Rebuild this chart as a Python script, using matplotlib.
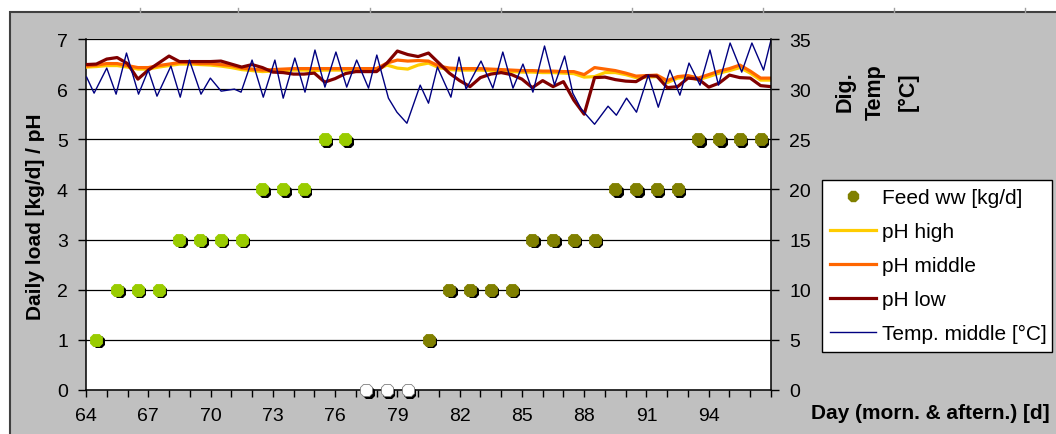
import matplotlib
matplotlib.use('Agg')
import numpy as np
import matplotlib.pyplot as plt
from matplotlib.lines import Line2D
from matplotlib.patches import Rectangle
from matplotlib.transforms import offset_copy

plt.rcParams['font.family'] = ['Liberation Sans', 'DejaVu Sans']

# pH readings, two per day (morning / afternoon)
ph_day = np.arange(64.0, 97.01, 0.5)
ph_low = [6.49, 6.50, 6.60, 6.63, 6.51, 6.20, 6.38, 6.52, 6.66, 6.55,
          6.55, 6.55, 6.55, 6.56, 6.50, 6.44, 6.49, 6.43, 6.34, 6.33,
          6.30, 6.30, 6.32, 6.14, 6.21, 6.31, 6.35, 6.35, 6.35, 6.52,
          6.76, 6.69, 6.65, 6.72, 6.52, 6.32, 6.17, 6.05, 6.23, 6.30,
          6.33, 6.29, 6.20, 6.03, 6.17, 6.05, 6.15, 5.78, 5.50, 6.23,
          6.24, 6.19, 6.16, 6.15, 6.27, 6.26, 6.03, 6.05, 6.22, 6.20,
          6.04, 6.12, 6.28, 6.23, 6.22, 6.07, 6.05]
ph_middle = [6.46, 6.48, 6.51, 6.51, 6.47, 6.43, 6.43, 6.47, 6.50, 6.53,
             6.53, 6.51, 6.51, 6.49, 6.47, 6.42, 6.40, 6.38, 6.39, 6.40,
             6.41, 6.41, 6.41, 6.41, 6.41, 6.41, 6.41, 6.41, 6.41, 6.52,
             6.58, 6.56, 6.57, 6.56, 6.46, 6.42, 6.41, 6.41, 6.41, 6.40,
             6.39, 6.38, 6.37, 6.37, 6.36, 6.36, 6.35, 6.35, 6.29, 6.43,
             6.40, 6.37, 6.32, 6.26, 6.27, 6.28, 6.17, 6.25, 6.27, 6.22,
             6.29, 6.36, 6.41, 6.48, 6.36, 6.22, 6.22]
ph_high = [6.44, 6.45, 6.47, 6.47, 6.44, 6.40, 6.40, 6.44, 6.47, 6.50,
           6.50, 6.49, 6.48, 6.46, 6.43, 6.39, 6.37, 6.35, 6.36, 6.37,
           6.38, 6.38, 6.37, 6.38, 6.38, 6.38, 6.38, 6.38, 6.38, 6.48,
           6.42, 6.40, 6.48, 6.52, 6.43, 6.39, 6.38, 6.38, 6.38, 6.37,
           6.36, 6.35, 6.34, 6.34, 6.33, 6.33, 6.32, 6.31, 6.24, 6.25,
           6.33, 6.33, 6.29, 6.23, 6.24, 6.25, 6.13, 6.22, 6.24, 6.19,
           6.25, 6.32, 6.37, 6.43, 6.32, 6.18, 6.18]

# digester temperature, middle probe
temp_day = [64.03, 64.39, 65.0, 65.45, 65.95, 66.53, 67.0, 67.42, 68.09, 68.54,
            68.98, 69.54, 69.99, 70.51, 71.15, 71.47, 72.0, 72.54, 73.1, 73.5,
            74.06, 74.55, 75.03, 75.51, 76.04, 76.56, 77.04, 77.61, 78.01, 78.57,
            78.98, 79.46, 80.1, 80.5, 80.93, 81.58, 81.97, 82.31, 83.03, 83.6,
            84.08, 84.57, 85.05, 85.53, 86.09, 86.57, 87.06, 87.45, 87.86, 88.5,
            89.15, 89.55, 90.04, 90.52, 91.09, 91.57, 92.13, 92.61, 93.05, 93.58,
            94.06, 94.47, 95.03, 95.59, 96.08, 96.64, 97.0]
temp_mid = [31.2, 29.6, 32.1, 29.5, 33.6, 29.5, 31.9, 29.3, 32.3, 29.2,
            32.9, 29.5, 31.1, 29.8, 30.0, 29.7, 32.9, 29.2, 32.9, 29.1,
            33.1, 29.7, 33.9, 30.2, 33.7, 30.2, 32.9, 30.1, 33.4, 29.1,
            27.7, 26.6, 30.4, 28.6, 32.2, 29.2, 33.2, 30.0, 32.8, 30.1,
            33.7, 30.1, 32.5, 29.7, 34.3, 30.4, 33.3, 29.6, 28.0, 26.5,
            28.3, 27.4, 29.1, 27.7, 31.4, 28.2, 31.9, 29.4, 32.6, 30.4,
            33.9, 30.4, 34.6, 31.7, 34.6, 31.9, 34.9]

# feed loads [kg/d]; first period (green), stop (white), second period (olive)
feed1_day = [64.5, 65.5, 66.5, 67.5, 68.5, 69.5, 70.5, 71.5, 72.5, 73.5, 74.5, 75.5, 76.5]
feed1_load = [1, 2, 2, 2, 3, 3, 3, 3, 4, 4, 4, 5, 5]
stop_day = [77.5, 78.5, 79.5]
stop_load = [0, 0, 0]
feed2_day = [80.5, 81.5, 82.5, 83.5, 84.5, 85.5, 86.5, 87.5, 88.5,
             89.5, 90.5, 91.5, 92.5, 93.5, 94.5, 95.5, 96.5]
feed2_load = [1, 2, 2, 2, 2, 3, 3, 3, 3, 4, 4, 4, 4, 5, 5, 5, 5]

W, H = 1056, 435
fig = plt.figure(figsize=(W / 100, H / 100), dpi=100)
fig.patch.set_facecolor('white')
fig.patches.append(Rectangle((10 / W, -0.1), 1.2, 0.1 + 422 / H, transform=fig.transFigure,
                             facecolor='#C0C0C0', edgecolor='#404040', lw=1.5, zorder=-10))
for xp in [140, 238, 370, 501, 632, 763, 894, 1025]:
    fig.add_artist(Line2D([xp / W, xp / W], [1 - 9 / H, 1 - 13 / H], color='#A0A0A0', lw=1,
                          zorder=-5))

ax = fig.add_axes([86 / W, 44 / H, 685 / W, 351 / H])
ax.set_facecolor('white')
ax.set_xlim(64, 97)
ax.set_ylim(0, 7)
ax.set_yticks(range(0, 8))
ax.set_xticks(np.arange(64, 95, 3))
ax.set_xticks(np.arange(64, 98), minor=True)
ax.yaxis.grid(True, color='black', lw=0.9)
ax.set_axisbelow(True)
ax.spines['top'].set_visible(False)
ax.spines['right'].set_visible(False)
for s in ['left', 'bottom']:
    ax.spines[s].set_color('black')
    ax.spines[s].set_linewidth(1.1)
ax.tick_params(axis='y', which='both', direction='out', length=6, width=1, pad=7, labelsize=14)
ax.tick_params(axis='x', which='both', direction='out', length=5, width=1, pad=7, labelsize=14)

ax.plot(ph_day, ph_high, color='#FFCC00', lw=2.3, zorder=3)
ax.plot(ph_day, ph_middle, color='#FF6600', lw=2.3, zorder=3)
ax.plot(ph_day, ph_low, color='#800000', lw=2.3, zorder=3)

shadow = offset_copy(ax.transData, fig=fig, x=2.5, y=-2.5, units='dots')
for d, v, c in [(feed1_day, feed1_load, '#99CC00'), (stop_day, stop_load, 'white'),
                (feed2_day, feed2_load, '#808000')]:
    ax.plot(d, v, ls='none', marker='8', ms=10, color='black', mew=0,
            transform=shadow, clip_on=False, zorder=4)
    ax.plot(d, v, ls='none', marker='8', ms=10, color=c,
            mec='#808080' if c == 'white' else c, mew=0.6, clip_on=False, zorder=5)

ax2 = ax.twinx()
ax2.set_ylim(0, 35)
ax2.set_yticks(range(0, 36, 5))
for s in ['top', 'left', 'bottom']:
    ax2.spines[s].set_visible(False)
ax2.spines['right'].set_color('black')
ax2.spines['right'].set_linewidth(1.1)
ax2.tick_params(axis='y', direction='out', length=6, width=1, pad=7, labelsize=14)
ax2.plot(temp_day, temp_mid, color='#000080', lw=1.0, solid_joinstyle='round')

fig.text(36 / W, 1 - 217 / H, 'Daily load [kg/d] / pH', rotation=90, ha='center', va='center',
         fontsize=15, fontweight='bold')
for xp, word in [(845, 'Dig.'), (875, 'Temp'), (908, '[°C]')]:
    fig.text(xp / W, 1 - 92 / H, word, rotation=90, ha='center', va='center',
             fontsize=15.5, fontweight='bold')
fig.text(930 / W, 1 - 414 / H, 'Day (morn. & aftern.) [d]', ha='center', va='center',
         fontsize=15, fontweight='bold')

handles = [Line2D([], [], ls='none', marker='8', ms=8, color='#808000'),
           Line2D([], [], color='#FFCC00', lw=2.3),
           Line2D([], [], color='#FF6600', lw=2.3),
           Line2D([], [], color='#800000', lw=2.3),
           Line2D([], [], color='#000080', lw=1.0)]
labels = ['Feed ww [kg/d]', 'pH high', 'pH middle', 'pH low', 'Temp. middle [°C]']
leg = ax2.legend(handles, labels, loc='upper left', mode='expand',
                 bbox_to_anchor=(822 / W, 0, 230 / W, 1 - 181 / H),
                 bbox_transform=fig.transFigure, borderaxespad=0, fontsize=15,
                 frameon=True, fancybox=False, framealpha=1, edgecolor='black',
                 borderpad=0.4, labelspacing=0.72, handlelength=2.2, handletextpad=0.3)
leg.get_frame().set_linewidth(1.0)

fig.savefig('out.png', dpi=100)
